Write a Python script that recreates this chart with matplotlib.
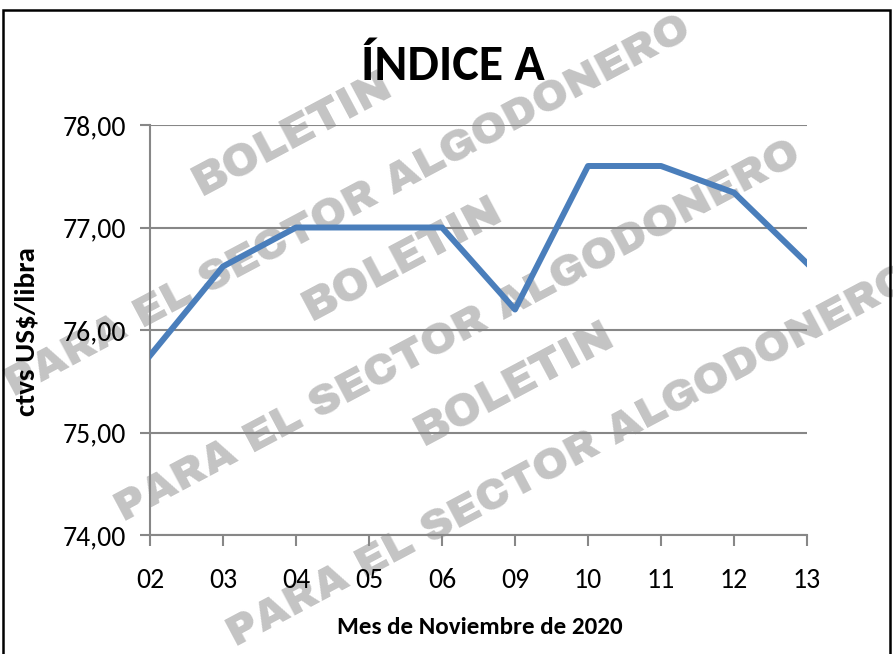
import matplotlib.pyplot as plt
from matplotlib.patches import Rectangle

dias = ['02', '03', '04', '05', '06', '09', '10', '11', '12', '13']
indice_a = [75.75, 76.62, 77.00, 77.00, 77.00, 76.20, 77.60, 77.60, 77.34, 76.65]
y_ticks = [74, 75, 76, 77, 78]

W, H = 893, 654
plt.rcParams['font.family'] = ['Carlito', 'DejaVu Sans']
marca = ['Archivo Black', 'DejaVu Sans']

fig = plt.figure(figsize=(W / 100, H / 100), dpi=100)
ax = fig.add_axes([150 / W, 1 - 535 / H, (807 - 150) / W, (535 - 125) / H])


def px(x, y):
    return x / W, 1 - y / H


# marca de agua
for bx, by in [(293, 135), (403, 260), (515, 385)]:
    ax.text(*px(bx, by), 'BOLETIN', transform=fig.transFigure, rotation=28,
            ha='center', va='center', fontsize=32, family=marca,
            color='#c4c4c4', zorder=0.5, clip_on=False, rotation_mode='anchor')
    ax.text(*px(bx + 55, by + 72), 'PARA EL SECTOR ALGODONERO', transform=fig.transFigure,
            rotation=28, ha='center', va='center', fontsize=31, family=marca,
            color='#c4c4c4', zorder=0.5, clip_on=False, rotation_mode='anchor')

x = list(range(len(dias)))
ax.plot(x, indice_a, color='#4A7EBB', linewidth=4.3, zorder=3)

ax.set_xlim(0, len(dias) - 1)
ax.set_ylim(74, 78)
ax.set_xticks(x)
ax.set_xticklabels(dias)
ax.set_yticks(y_ticks)
ax.set_yticklabels([('%.2f' % v).replace('.', ',') for v in y_ticks])

ax.grid(axis='y', color='#878787', linewidth=1.5, zorder=1)
ax.set_axisbelow(True)
for s in ['top', 'right']:
    ax.spines[s].set_visible(False)
for s in ['left', 'bottom']:
    ax.spines[s].set_color('#878787')
    ax.spines[s].set_linewidth(1.5)
ax.tick_params(axis='x', length=8, width=1.5, color='#878787', labelsize=20, pad=16)
ax.tick_params(axis='y', length=7, width=1.5, color='#878787', labelsize=20, pad=10)
ax.patch.set_alpha(0)

fig.text(*px(453, 66), 'ÍNDICE A', ha='center', va='center', fontsize=36, fontweight='bold')
fig.text(*px(480, 627), 'Mes de Noviembre de 2020', ha='center', va='center',
         fontsize=18, fontweight='bold')
fig.text(*px(27, 332), 'ctvs US$/libra', ha='center', va='center', rotation=90,
         fontsize=21, fontweight='bold')

fig.patches.append(Rectangle(px(3, 660), (890 - 3) / W, (660 - 10) / H,
                             transform=fig.transFigure, fill=False,
                             edgecolor='black', linewidth=1.8))

fig.savefig('out.png', dpi=100)
